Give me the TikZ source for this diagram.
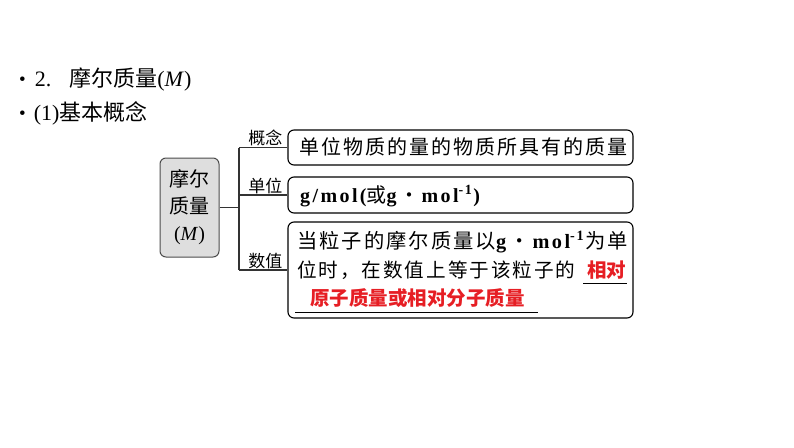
\documentclass[tikz,border=0pt]{standalone}
\usepackage{fontspec}
\setmainfont{Liberation Serif}
\newfontfamily\lat[LetterSpace=12]{Liberation Serif}
\newfontfamily\cjk{Noto Sans CJK SC}
\newfontfamily\cjks[LetterSpace=10]{Noto Sans CJK SC}
\usetikzlibrary{positioning}
\definecolor{boxgray}{RGB}{222,222,222}
\definecolor{ansred}{RGB}{230,30,36}
\tikzset{
	box/.style={shape=rectangle,rounded corners=6pt,draw=black,line width=1.1pt,inner sep=0pt,minimum width=345pt},
	lbl/.style={inner sep=1pt,anchor=south east,font={\cjk\fontsize{17}{17}\selectfont}},
	txt/.style={inner sep=0pt,anchor=west},
	ans/.style={inner sep=0pt,anchor=west,text=ansred,font={\cjk\bfseries\fontsize{19.5}{20}\selectfont}},
	link/.style={draw=black!80,line width=1.1pt},
}

\begin{document}
\begin{tikzpicture}[x=1pt,y=-1pt]
	\useasboundingbox (0,0) rectangle (794,447);
	\node[txt,font={\fontsize{22}{26}\selectfont}] (h1) at (19, 80) {\raisebox{1pt}{\fontsize{19}{19}\selectfont •}\hspace{9pt}2.\hspace{18pt}{\cjk 摩尔质量}(\textit{M})};
	\node[txt,font={\fontsize{22}{26}\selectfont}] (h2) at (19, 113) {\raisebox{1pt}{\fontsize{19}{19}\selectfont •}\hspace{8pt}(1){\cjk 基本概念}};
	\node[shape=rectangle,rounded corners=6pt,draw=black!70,fill=boxgray,line width=1pt,minimum width=59pt,minimum height=99pt,inner sep=0pt,align=center,font={\fontsize{20}{27}\selectfont}] (mm) at (189.5, 207.5) {{\cjk 摩尔}\\{\cjk 质量}\\(\textit{M})};
	\node[box,minimum height=35pt] (b1) at (460.5, 147.5) {};
	\node[box,minimum height=36pt] (b2) at (460.5, 195) {};
	\node[box,minimum height=96pt] (b3) at (460.5, 270) {};
	\coordinate (fork) at (239, 207.5);
	\draw[link] (mm.east) -- (fork);
	\draw[link] (fork |- b1.west) -- (fork |- b3.west);
	\draw[link] (fork |- b1.west) -- (b1.west);
	\draw[link] (fork |- b2.west) -- (b2.west);
	\draw[link] (fork |- b3.west) -- (b3.west);
	\node[lbl] (l1) at ([xshift=-4pt]b1.west) {概念};
	\node[lbl] (l2) at ([xshift=-4pt]b2.west) {单位};
	\node[lbl] (l3) at ([xshift=-4pt]b3.west) {数值};
	\node[txt,font={\cjks\fontsize{20}{24}\selectfont}] (d1) at (299, 147) {单位物质的量的物质所具有的质量};
	\node[txt,font={\lat\bfseries\fontsize{20}{24}\selectfont}] (d2) at (300, 196) {g/mol({\cjk\mdseries 或}g\hspace{3pt}{\cjk\mdseries ・}\hspace{2pt}mol\textsuperscript{-1}\hspace{1pt})};
	\node[txt,font={\fontsize{20.3}{24}\selectfont}] (d3) at (297, 242) {{\cjks 当粒子的摩尔质量以}{\lat\bfseries g\hspace{3pt}{\cjk\mdseries ・}\hspace{3pt}mol\textsuperscript{-1}}\hspace{1pt}{\cjks 为单}};
	\node[txt,font={\cjks\fontsize{19.6}{24}\selectfont}] (d4) at (297, 270) {位时，在数值上等于该粒子的};
	\node[ans] (a1) at (587, 270) {相对};
	\node[ans] (a2) at (310, 298) {原子质量或相对分子质量};
	\coordinate (u1a) at (583, 283);
	\coordinate (u1b) at (627, 283);
	\coordinate (u2a) at (295, 312);
	\coordinate (u2b) at (538, 312);
	\draw[line width=1pt] (u1a) -- (u1b);
	\draw[line width=1pt] (u2a) -- (u2b);
\end{tikzpicture}
\end{document}
